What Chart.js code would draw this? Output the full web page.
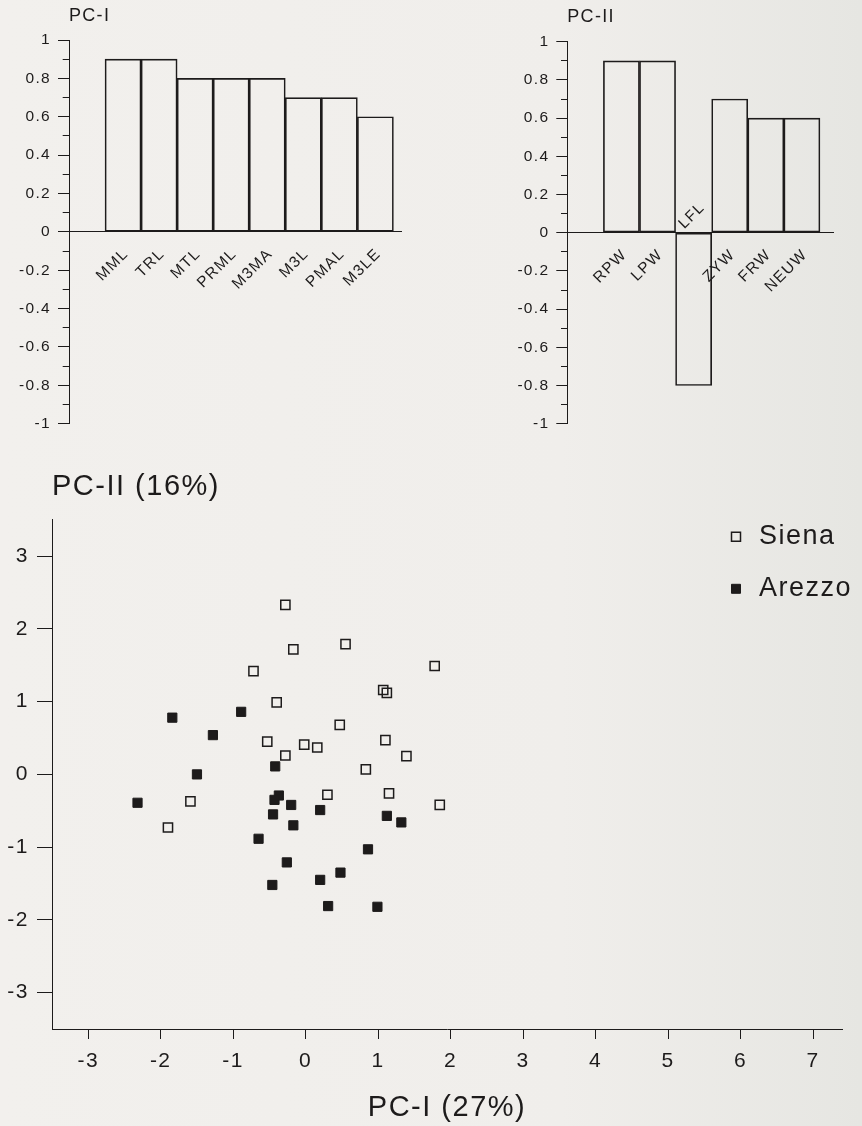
<!DOCTYPE html>
<html>
<head>
<meta charset="utf-8">
<script src="https://cdn.jsdelivr.net/npm/chart.js@4.4.0/dist/chart.umd.min.js"></script>
<style>
  html, body { margin: 0; padding: 0; }
  body {
    width: 862px; height: 1126px; position: relative; overflow: hidden;
    background: linear-gradient(to right, #f2f0ed 0%, #f0eeeb 65%, #e6e6e2 100%);
  }
  canvas { position: absolute; }
  #pc1Chart { left: 0; top: 0; }
  #pc2Chart { left: 480px; top: 0; }
  #scatterChart { left: 0; top: 450px; }
</style>
</head>
<body>
<canvas id="pc1Chart" width="430" height="440"></canvas>
<canvas id="pc2Chart" width="382" height="440"></canvas>
<canvas id="scatterChart" width="862" height="676"></canvas>
<script>
// loadings on the first two components
const pc1Labels = ["MML", "TRL", "MTL", "PRML", "M3MA", "M3L", "PMAL", "M3LE"];
const pc1Values = [0.9, 0.9, 0.8, 0.8, 0.8, 0.7, 0.7, 0.6];
const pc2Labels = ["RPW", "LPW", "LFL", "ZYW", "FRW", "NEUW"];
const pc2Values = [0.9, 0.9, -0.8, 0.7, 0.6, 0.6];

const loadingTicks = [-1, -0.9, -0.8, -0.7, -0.6, -0.5, -0.4, -0.3, -0.2, -0.1, 0,
  0.1, 0.2, 0.3, 0.4, 0.5, 0.6, 0.7, 0.8, 0.9, 1];
const loadingLabelled = [-1, -0.8, -0.6, -0.4, -0.2, 0, 0.2, 0.4, 0.6, 0.8, 1];

// PCA scores
const sienaX = [-0.28, -0.17, 0.55, 1.78, -0.72, 1.07, 1.12, -0.40, 0.47, -0.53, -0.02,
  0.16, -0.28, 1.10, 1.39, 0.83, 0.30, 1.15, 1.85, -1.59, -1.90];
const sienaY = [2.33, 1.72, 1.79, 1.49, 1.42, 1.16, 1.12, 0.99, 0.68, 0.45, 0.41,
  0.37, 0.26, 0.47, 0.25, 0.07, -0.28, -0.26, -0.42, -0.37, -0.73];
const arezzoX = [-1.84, -0.89, -1.28, -1.50, -2.32, -0.42, -0.37, -0.43, -0.20, 0.20, -0.45,
  -0.17, 1.12, 1.32, -0.65, 0.86, -0.26, 0.48, 0.20, -0.46, 0.31, 0.99];
const arezzoY = [0.78, 0.86, 0.54, 0.00, -0.39, 0.11, -0.29, -0.35, -0.42, -0.49, -0.55,
  -0.70, -0.57, -0.66, -0.885, -1.03, -1.21, -1.35, -1.45, -1.52, -1.81, -1.82];

const scatterXTicks = [-3, -2, -1, 0, 1, 2, 3, 4, 5, 6, 7];
const scatterYTicks = [-3, -2, -1, 0, 1, 2, 3];

const ink = "#1d1b1b";
const family = "'Liberation Sans', Arial, sans-serif";

const letterSpacing = {
  id: "letterSpacing",
  defaults: { value: "0px" },
  beforeUpdate(chart, args, opts) { chart.ctx.letterSpacing = opts.value; },
  beforeDraw(chart, args, opts) { chart.ctx.letterSpacing = opts.value; }
};

function loadingChart(id, title, labels, values, xMax, yAxisWidth, titlePad, pad) {
  const isLabelled = (v) => loadingLabelled.some((m) => Math.abs(m - v) < 1e-6);

  // labels of negative bars sit above the zero line
  const negativeLabels = {
    id: "negativeLabels",
    afterDatasetsDraw(chart) {
      const { ctx, scales: { x, y } } = chart;
      const y0 = y.getPixelForValue(0);
      ctx.save();
      ctx.font = "15px " + family;
      ctx.fillStyle = ink;
      ctx.textAlign = "left";
      ctx.textBaseline = "bottom";
      values.forEach((v, i) => {
        if (v >= 0) return;
        ctx.save();
        ctx.translate(x.getPixelForValue(i + 1) - 7, y0 - 1);
        ctx.rotate(-Math.PI / 4);
        ctx.fillText(labels[i], 0, 0);
        ctx.restore();
      });
      ctx.restore();
    }
  };

  return new Chart(document.getElementById(id), {
    type: "bar",
    data: {
      datasets: [{
        data: labels.map((l, i) => ({ x: i + 1, y: values[i] })),
        backgroundColor: "rgba(0,0,0,0)",
        borderColor: ink,
        borderWidth: 1,
        borderSkipped: false,
        barPercentage: 1,
        categoryPercentage: 1
      }]
    },
    options: {
      responsive: false,
      animation: false,
      events: [],
      layout: { padding: pad },
      plugins: {
        legend: { display: false },
        tooltip: { enabled: false },
        letterSpacing: { value: "1.3px" },
        title: {
          display: true,
          text: title,
          align: "start",
          fullSize: false,
          color: ink,
          font: { family: family, size: 18, weight: "normal" },
          padding: titlePad
        }
      },
      scales: {
        x: {
          type: "linear",
          position: { y: 0 },
          min: -0.5,
          max: xMax,
          offset: false,
          afterBuildTicks: (s) => { s.ticks = labels.map((l, i) => ({ value: i + 1 })); },
          border: { display: true, color: ink, width: 1 },
          grid: { display: false, drawTicks: false, offset: false },
          ticks: {
            autoSkip: false,
            minRotation: 45,
            maxRotation: 45,
            padding: 13,
            labelOffset: 3,
            color: ink,
            font: { family: family, size: 15.5 },
            callback: (v) => (values[v - 1] < 0 ? "" : labels[v - 1])
          }
        },
        y: {
          min: -1,
          max: 1,
          afterBuildTicks: (s) => { s.ticks = loadingTicks.map((v) => ({ value: v })); },
          afterFit: (s) => { s.width = yAxisWidth; },
          border: { display: true, color: ink, width: 1 },
          grid: {
            drawOnChartArea: false,
            drawTicks: true,
            tickLength: 11,
            tickWidth: 1,
            tickColor: ink,
            tickBorderDash: (c) => (c.tick && isLabelled(c.tick.value) ? [] : [0, 4.7, 7, 20])
          },
          ticks: {
            autoSkip: false,
            padding: 7,
            color: ink,
            font: { family: family, size: 15.5 },
            callback: (v) => (isLabelled(v) ? String(Number(v.toFixed(1))) : "")
          }
        }
      }
    },
    plugins: [letterSpacing, negativeLabels]
  });
}

loadingChart("pc1Chart", "PC-I", pc1Labels, pc1Values, 8.73, 69,
  { top: 5, bottom: 13.4 }, { right: 28.3, bottom: 10 });
loadingChart("pc2Chart", "PC-II", pc2Labels, pc2Values, 6.87, 87.3,
  { top: 6, bottom: 14.1 }, { right: 28.7, bottom: 9 });

// legend sits in the top right corner of the plot
const legendPlacer = {
  id: "legendPlacer",
  afterLayout(chart) {
    const lg = chart.legend;
    lg.left = chart.chartArea.right - 140.5;
    lg.top = chart.chartArea.top - 21.5;
    lg.right = lg.left + 170;
    lg.bottom = lg.top + 160;
  }
};

new Chart(document.getElementById("scatterChart"), {
  type: "scatter",
  data: {
    datasets: [
      {
        label: "Siena",
        data: sienaX.map((x, i) => ({ x: x, y: sienaY[i] })),
        pointStyle: "rect",
        pointRadius: 6.5,
        backgroundColor: "rgba(0,0,0,0)",
        borderColor: ink,
        pointBorderWidth: 1.5
      },
      {
        label: "Arezzo",
        data: arezzoX.map((x, i) => ({ x: x, y: arezzoY[i] })),
        pointStyle: "rect",
        pointRadius: 6.5,
        backgroundColor: ink,
        borderColor: ink,
        pointBorderWidth: 1
      }
    ]
  },
  options: {
    responsive: false,
    animation: false,
    events: [],
    layout: { padding: { right: 20 } },
    plugins: {
      tooltip: { enabled: false },
      letterSpacing: { value: "1.5px" },
      title: {
        display: true,
        text: "PC-II (16%)",
        align: "start",
        fullSize: false,
        color: ink,
        font: { family: family, size: 29, weight: "normal" },
        padding: { top: 20, bottom: 15 }
      },
      legend: {
        position: "chartArea",
        align: "start",
        labels: {
          usePointStyle: true,
          boxWidth: 19,
          boxHeight: 9,
          padding: 25,
          color: ink,
          font: { family: family, size: 27 }
        }
      }
    },
    scales: {
      x: {
        type: "linear",
        min: -3.5,
        max: 7.4,
        afterBuildTicks: (s) => { s.ticks = scatterXTicks.map((v) => ({ value: v })); },
        afterFit: (s) => { s.height = 97; },
        border: { display: true, color: ink, width: 1 },
        grid: { drawOnChartArea: false, tickLength: 10, tickColor: ink, tickWidth: 1 },
        ticks: { padding: 10, color: ink, font: { family: family, size: 21 } },
        title: {
          display: true,
          text: "PC-I (27%)",
          color: ink,
          font: { family: family, size: 29 },
          padding: { top: 0, bottom: 1 }
        }
      },
      y: {
        min: -3.5,
        max: 3.5,
        afterBuildTicks: (s) => { s.ticks = scatterYTicks.map((v) => ({ value: v })); },
        afterFit: (s) => { s.width = 52; },
        border: { display: true, color: ink, width: 1 },
        grid: { drawOnChartArea: false, tickLength: 15, tickColor: ink, tickWidth: 1 },
        ticks: { padding: 8, color: ink, font: { family: family, size: 21 } }
      }
    }
  },
  plugins: [letterSpacing, legendPlacer]
});
</script>
</body>
</html>
